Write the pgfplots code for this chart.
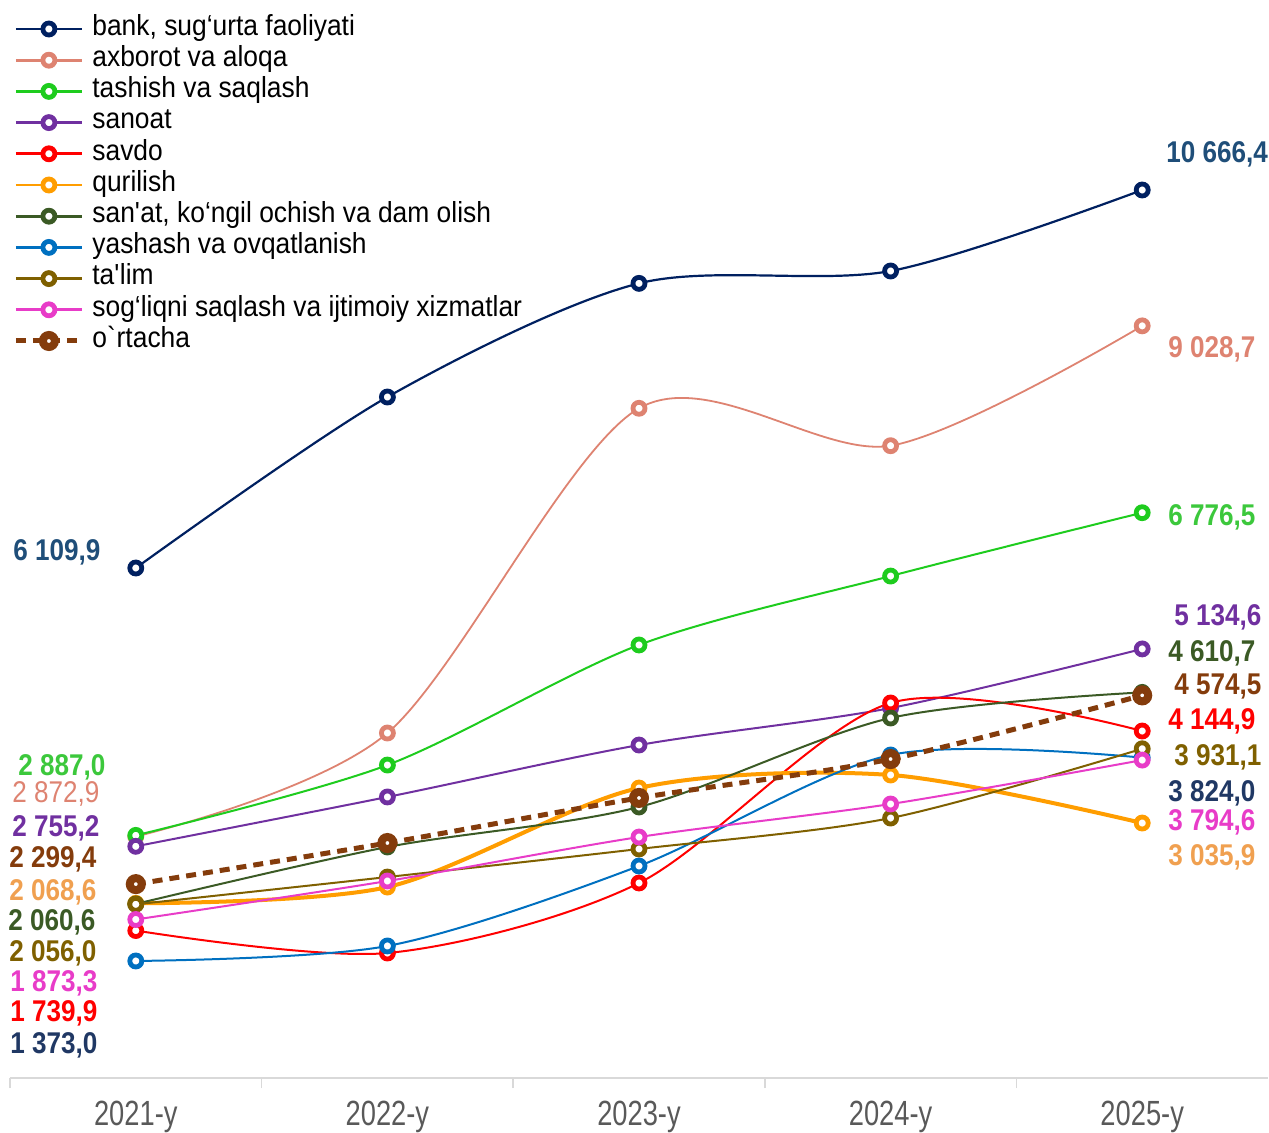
\documentclass[border=0pt]{standalone}
\usepackage{fontspec}
\setmainfont{Liberation Sans}[FakeStretch=0.91]
\newfontfamily\tickfont{Liberation Sans}[FakeStretch=0.78]
\newfontfamily\labfont{Liberation Sans}[FakeStretch=0.87]
\usepackage{pgfplots}
\pgfplotsset{compat=1.18}
\definecolor{cbank}{HTML}{002060}
\definecolor{caxb}{HTML}{DE8371}
\definecolor{ctash}{HTML}{1ECC1E}
\definecolor{csan}{HTML}{7030A0}
\definecolor{csav}{HTML}{FF0000}
\definecolor{cqur}{HTML}{FF9D00}
\definecolor{csnt}{HTML}{3B5A25}
\definecolor{cyash}{HTML}{0070C0}
\definecolor{ctal}{HTML}{7F6000}
\definecolor{csog}{HTML}{E83CC8}
\definecolor{cavg}{HTML}{843C0C}
\definecolor{lbank}{HTML}{1F4E79}
\definecolor{lnavy}{HTML}{203864}
\definecolor{lgreen}{HTML}{3CC83C}
\definecolor{lorange}{HTML}{F0A050}
\definecolor{ltick}{HTML}{595959}
\newcommand{\lab}{\labfont\fontsize{15}{17}\selectfont\bfseries}
\begin{document}
\begin{tikzpicture}
\useasboundingbox (0,0) rectangle (634.5pt,566pt);
\begin{axis}[
  at={(5pt,27pt)}, anchor=south west,
  scale only axis, width=629pt, height=539pt,
  xmin=-0.5, xmax=4.5, ymin=-37.6, ymax=12956.6,
  clip=false,
  axis x line*=bottom, axis y line=none,
  x axis line style={-, draw=black!15, line width=1pt},
  xtick={0,1,2,3,4},
  xticklabels={2021-y,2022-y,2023-y,2024-y,2025-y},
  major tick length=0pt,
  minor xtick={-0.5,0.5,1.5,2.5,3.5},
  minor tick length=5pt,
  tick align=outside,
  xtick style={draw=black!15, line width=0.8pt},
  xticklabel style={font=\tickfont\fontsize{17.5}{20}\selectfont, text=ltick, anchor=base, yshift=-23.5pt},
  every axis plot/.append style={smooth, mark=*, mark size=3pt, mark options={solid, fill=white, line width=2.4pt}},
  legend cell align=left,
  legend style={at={(0,1)}, anchor=north west, xshift=-1.5pt, yshift=-4.5pt, draw=none, fill=none,
    font=\fontsize{14.5}{15.6}\selectfont, row sep=0pt, column sep=4pt,
    nodes={inner sep=0pt, text height=11pt, text depth=4.6pt}},
  legend image code/.code={\draw[line width=1.4pt, mark repeat=2,mark phase=2] plot coordinates {(0pt,0pt) (16.5pt,0pt) (33pt,0pt)};},
]
\addplot[cbank, line width=1.1pt] coordinates {(0,6109.9) (1,8171) (2,9541) (3,9690) (4,10666.4)};
\addlegendentry{bank, sug‘urta faoliyati}
\addplot[caxb, line width=0.9pt] coordinates {(0,2872.9) (1,4121) (2,8035) (3,7584) (4,9028.7)};
\addlegendentry{axborot va aloqa}
\addplot[ctash, line width=1pt] coordinates {(0,2887.0) (1,3735) (2,5182) (3,6013) (4,6776.5)};
\addlegendentry{tashish va saqlash}
\addplot[csan, line width=1pt] coordinates {(0,2755.2) (1,3350) (2,3976) (3,4422) (4,5134.6)};
\addlegendentry{sanoat}
\addplot[csav, line width=1pt] coordinates {(0,1739.9) (1,1469) (2,2313) (3,4483) (4,4144.9)};
\addlegendentry{savdo}
\addplot[cqur, line width=2pt] coordinates {(0,2068.6) (1,2264) (2,3458) (3,3615) (4,3035.9)};
\addlegendentry{qurilish}
\addplot[csnt, line width=1pt] coordinates {(0,2060.6) (1,2747) (2,3229) (3,4302) (4,4610.7)};
\addlegendentry{san\textquotesingle at, ko‘ngil ochish va dam olish}
\addplot[cyash, line width=1pt] coordinates {(0,1373.0) (1,1554) (2,2518) (3,3856) (4,3824.0)};
\addlegendentry{yashash va ovqatlanish}
\addplot[ctal, line width=1pt] coordinates {(0,2056.0) (1,2385) (2,2723) (3,3096) (4,3931.1)};
\addlegendentry{ta\textquotesingle lim}
\addplot[csog, line width=1pt] coordinates {(0,1873.3) (1,2337) (2,2867) (3,3265) (4,3794.6)};
\addlegendentry{sog‘liqni saqlash va ijtimoiy xizmatlar}
\addplot[cavg, line width=2.5pt, dash pattern=on 5pt off 3.5pt, mark options={solid, fill=white, line width=4pt},
  legend image code/.code={\draw[mark repeat=2,mark phase=2] plot coordinates {(0pt,0pt) (16.5pt,0pt) (33pt,0pt)};}] coordinates {(0,2299.4) (1,2795) (2,3338) (3,3807) (4,4574.5)};
\addlegendentry{o\textasciigrave rtacha}
\end{axis}
\begin{scope}[every node/.style={inner sep=0pt, anchor=base west, font=\lab}]
\node[text=lbank] at (6.5pt,286pt) {6 109,9};
\node[text=lgreen] at (9pt,178.5pt) {2 887,0};
\node[text=caxb, font=\labfont\fontsize{15}{17}\selectfont] at (6pt,165pt) {2 872,9};
\node[text=csan] at (6pt,148pt) {2 755,2};
\node[text=cavg] at (4.5pt,132.5pt) {2 299,4};
\node[text=lorange] at (4.5pt,116pt) {2 068,6};
\node[text=csnt] at (4pt,101pt) {2 060,6};
\node[text=ctal] at (4.5pt,85.5pt) {2 056,0};
\node[text=csog] at (5pt,70.5pt) {1 873,3};
\node[text=csav] at (5pt,55.5pt) {1 739,9};
\node[text=lnavy] at (5pt,39.5pt) {1 373,0};
\node[text=lbank] at (583pt,484.5pt) {10 666,4};
\node[text=caxb] at (584pt,387pt) {9 028,7};
\node[text=lgreen] at (584pt,303.5pt) {6 776,5};
\node[text=csan] at (587pt,253.5pt) {5 134,6};
\node[text=csnt] at (584pt,235.5pt) {4 610,7};
\node[text=cavg] at (587pt,219pt) {4 574,5};
\node[text=csav] at (584pt,201.5pt) {4 144,9};
\node[text=ctal] at (587pt,183.5pt) {3 931,1};
\node[text=lnavy] at (584pt,165.5pt) {3 824,0};
\node[text=csog] at (584pt,151pt) {3 794,6};
\node[text=lorange] at (584pt,133.5pt) {3 035,9};
\end{scope}
\end{tikzpicture}
\end{document}
